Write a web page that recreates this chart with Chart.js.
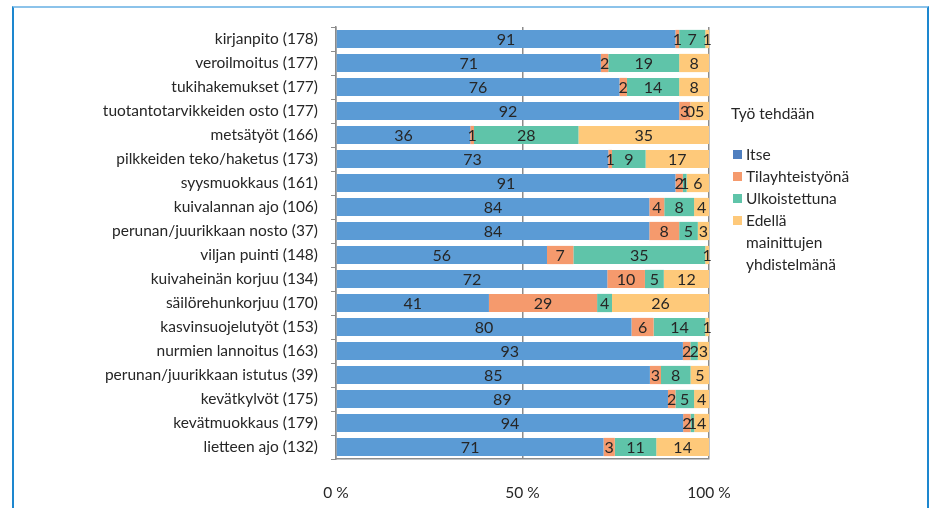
<!DOCTYPE html>
<html><head><meta charset="utf-8">
<script src="https://cdn.jsdelivr.net/npm/chart.js@4"></script>
<style>
html,body{margin:0;padding:0;background:#fff;}
#wrap{position:relative;width:933px;height:508px;overflow:hidden;font-family:Lato,"Open Sans",sans-serif;}
#frame{position:absolute;left:12px;top:6px;width:913px;height:520px;border:2px solid #1d87cf;border-top-color:#8cc3ea;}
#c{position:absolute;left:0;top:0;}
#legend{position:absolute;left:731px;top:102px;color:#262626;font-size:15.5px;}
#legend .t{margin-bottom:19px;line-height:22px;}
#legend .it{position:relative;padding-left:15px;line-height:22px;margin-bottom:0;}
#legend .sw{position:absolute;left:2px;top:7px;width:9px;height:9px;}
</style></head>
<body><div id="wrap"><div id="frame"></div><canvas id="c" width="933" height="508"></canvas><div id="legend"></div></div>
<script>
const categories = ["kirjanpito (178)","veroilmoitus (177)","tukihakemukset (177)","tuotantotarvikkeiden osto (177)","metsätyöt (166)","pilkkeiden teko/haketus (173)","syysmuokkaus (161)","kuivalannan ajo (106)","perunan/juurikkaan nosto (37)","viljan puinti (148)","kuivaheinän korjuu (134)","säilörehunkorjuu (170)","kasvinsuojelutyöt (153)","nurmien lannoitus (163)","perunan/juurikkaan istutus (39)","kevätkylvöt (175)","kevätmuokkaus (179)","lietteen ajo (132)"];
const itse =          [91,71,76,92,36,73,91,84,84,56,72,41,80,93,85,89,94,71];
const tilayhteistyo = [1,2,2,3,1,1,2,4,8,7,10,29,6,2,3,2,2,3];
const ulkoistettuna = [7,19,14,0,28,9,1,8,5,35,5,4,14,2,8,5,1,11];
const yhdistelma =    [1,8,8,5,35,17,6,4,3,1,12,26,1,3,5,4,4,14];
const seriesNames = ["Itse","Tilayhteistyönä","Ulkoistettuna",["Edellä","mainittujen","yhdistelmänä"]];
const legendTitle = "Työ tehdään";
const xTickLabels = {0:"0 %",50:"50 %",100:"100 %"};
const colors = ["#5b9bd5","#f59a6d","#5fc4a9","#fec97a"];
const swatchColors = ["#4f7fbf","#f59a6d","#5fc4a9","#fec97a"];

const raw = [itse,tilayhteistyo,ulkoistettuna,yhdistelma];
const totals = categories.map((_,i)=>raw.reduce((s,a)=>s+a[i],0));
const datasets = raw.map((arr,k)=>({
  label: Array.isArray(seriesNames[k]) ? seriesNames[k].join(" ") : seriesNames[k],
  data: arr.map((v,i)=>v/totals[i]*100),
  rawValues: arr,
  backgroundColor: colors[k],
  borderWidth: 0,
  categoryPercentage: 1.0,
  barPercentage: 0.76
}));

const labelPlugin = {
  id:'segLabels',
  afterDatasetsDraw(chart){
    const ctx = chart.ctx;
    ctx.save();
    ctx.font = '16px Lato, "Open Sans", sans-serif';
    ctx.fillStyle = '#262626';
    ctx.textAlign = 'center';
    ctx.textBaseline = 'middle';
    chart.data.datasets.forEach((ds,di)=>{
      const meta = chart.getDatasetMeta(di);
      meta.data.forEach((bar,i)=>{
        const cx = (bar.x + bar.base)/2;
        ctx.fillText(String(ds.rawValues[i]), cx, bar.y+1);
      });
    });
    ctx.restore();
  }
};

new Chart(document.getElementById('c'),{
  type:'bar',
  data:{labels:categories,datasets},
  options:{
    indexAxis:'y',
    responsive:false,
    animation:false,
    layout:{padding:{left:0,right:224,top:27,bottom:0}},
    plugins:{legend:{display:false},tooltip:{enabled:false}},
    scales:{
      x:{
        stacked:true,min:0,max:100,
        afterFit(s){s.height=49;},
        afterBuildTicks(s){s.ticks=[{value:0},{value:50},{value:100}];},
        ticks:{padding:25,color:'#262626',font:{family:'Lato, "Open Sans", sans-serif',size:15.5},
          callback:(v)=>xTickLabels[v]},
        grid:{color:'#8c8c8c',lineWidth:1.5,drawTicks:false},
        border:{color:'#8c8c8c',width:1.5}
      },
      y:{
        stacked:true,
        afterFit(s){s.width=336;},
        ticks:{padding:13,color:'#262626',font:{family:'Lato, "Open Sans", sans-serif',size:15.5}},
        grid:{offset:true,drawOnChartArea:false,tickLength:5,color:'#8c8c8c',lineWidth:1},
        border:{color:'#8c8c8c',width:1.5}
      }
    }
  },
  plugins:[labelPlugin]
});

const lg = document.getElementById('legend');
const t = document.createElement('div'); t.className='t'; t.textContent=legendTitle; lg.appendChild(t);
seriesNames.forEach((n,k)=>{
  const it=document.createElement('div'); it.className='it';
  const sw=document.createElement('span'); sw.className='sw'; sw.style.background=swatchColors[k]; it.appendChild(sw);
  const lines = Array.isArray(n)?n:[n];
  lines.forEach((ln,j)=>{ if(j) it.appendChild(document.createElement('br')); it.appendChild(document.createTextNode(ln)); });
  lg.appendChild(it);
});
</script></body></html>
